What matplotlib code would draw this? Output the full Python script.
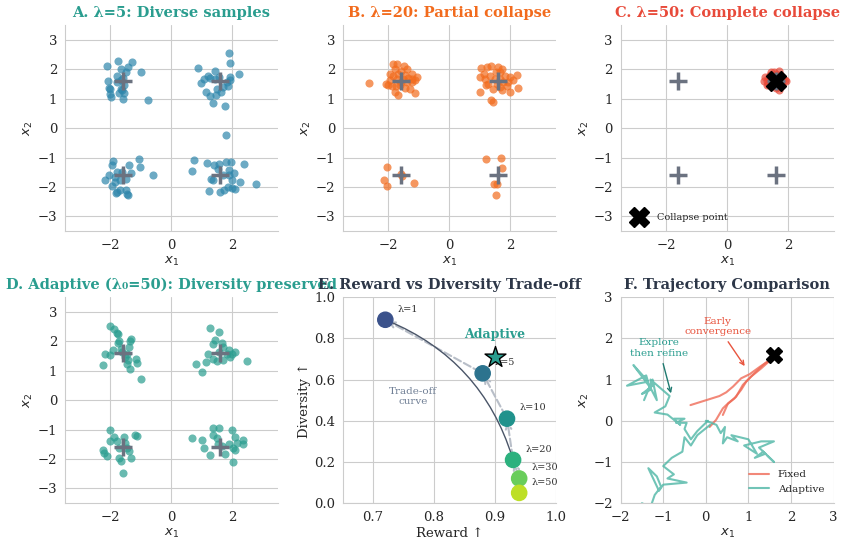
import matplotlib
matplotlib.use('Agg')
import matplotlib.pyplot as plt
import seaborn as sns
import numpy as np

sns.set_style('whitegrid')
plt.rcParams['font.family'] = ['DejaVu Serif', 'DejaVu Sans']

# mode centres
centers_x = [-1.6, 1.6, -1.6, 1.6]
centers_y = [1.6, 1.6, -1.6, -1.6]

# panel A samples (lambda=5)
a_x = [-2.10, -1.75, -1.28, -1.42, -1.65, -1.01, -1.49, -1.78, -2.07, -1.78, -1.54, -2.05, -2.03, -2.02, -1.97,
       -1.71, -1.55, -1.61, -1.60, -0.77, -1.66, -1.58, -1.67,
       1.89, 1.93, 0.87, 1.43, 1.20, 1.06, 0.98, 2.22, 1.93, 1.93, 1.82, 1.86, 1.49, 1.13, 1.27, 1.47, 1.36, 1.75,
       1.69, 1.44, 1.28, 1.58, 1.62,
       -1.91, -1.06, -1.94, -1.38, -1.02, -1.32, -0.61, -2.04, -1.86, -2.17, -1.86, -1.94, -1.70, -1.78, -1.82,
       -1.49, -1.45, -1.42, -1.61, -1.69, -1.50, -1.80,
       1.79, 0.73, 0.68, 1.18, 1.40, 1.57, 1.81, 1.97, 2.40, 1.89, 2.07, 1.30, 1.38, 2.01, 2.26, 2.78, 1.25, 1.60,
       1.73, 1.85, 2.01, 2.09, 1.55, 1.71, 1.88]
a_y = [2.12, 2.28, 2.24, 2.06, 2.01, 1.91, 1.89, 1.77, 1.60, 1.55, 1.48, 1.36, 1.32, 1.15, 1.07,
       1.19, 1.19, 1.28, 0.99, 0.95, 1.64, 1.69, 1.33,
       2.54, 2.21, 2.05, 1.93, 1.76, 1.66, 1.53, 1.82, 1.72, 1.64, 1.56, 1.42, 1.33, 1.24, 1.08, 1.11, 0.86, 0.75,
       1.39, 1.67, 1.71, 1.72, 1.22,
       -1.11, -1.06, -1.27, -1.27, -1.32, -1.53, -1.60, -1.60, -1.66, -1.77, -1.84, -1.98, -2.09, -2.17, -2.19,
       -2.09, -2.23, -2.26, -1.49, -1.77, -1.72, -1.49,
       -0.25, -1.07, -1.47, -1.20, -1.27, -1.21, -1.16, -1.14, -1.22, -1.44, -1.53, -1.72, -1.77, -1.75, -1.83,
       -1.91, -2.15, -2.17, -2.09, -2.00, -2.02, -2.08, -1.38, -1.60, -1.60]

# panel B samples (lambda=20)
b_x = [-2.64, -2.07, -2.00, -1.84, -1.73, -1.78, -1.48, -1.40, -1.23, -1.07, -1.12, -1.23, -1.45, -1.67, -1.79,
       -1.11, -1.95, -1.84, -1.67, -1.53, -1.35, -1.62, -1.75, -1.29, -1.88, -1.59, -1.45, -1.73, -1.40, -1.23,
       -1.57, -1.95,
       1.06, 1.24, 1.39, 1.61, 1.72, 1.67, 1.01, 1.17, 2.00, 2.24, 2.11, 2.27, 2.00, 1.72, 1.01, 1.39, 1.45,
       1.21, 1.45, 1.56, 1.78, 1.89, 1.34, 1.50, 1.83, 1.28, 1.67, 1.94, 1.14, 1.54, 1.67,
       -2.03, -2.13, -2.04, -1.57, -1.55, -1.17,
       1.21, 1.70, 1.72, 1.47, 1.58, 1.53]
b_y = [1.54, 1.51, 1.47, 2.18, 2.16, 2.01, 2.12, 2.01, 1.84, 1.73, 1.62, 1.56, 1.36, 1.11, 1.22,
       1.19, 1.62, 1.76, 1.84, 1.67, 1.69, 1.45, 1.42, 1.33, 1.42, 1.95, 1.80, 1.67, 1.56, 1.67,
       1.56, 1.84,
       2.03, 2.09, 2.12, 2.07, 2.00, 1.89, 1.73, 1.67, 1.74, 1.79, 1.63, 1.37, 1.24, 1.28, 1.22, 0.97, 0.88,
       1.45, 1.33, 1.50, 1.56, 1.42, 1.78, 1.67, 1.76, 1.50, 1.39, 1.56, 1.84, 1.89, 1.67,
       -1.32, -1.77, -1.98, -1.57, -1.64, -1.85,
       -1.04, -1.02, -1.36, -1.91, -1.91, -2.28]

# panel C samples (lambda=50)
c_x = [1.25, 1.30, 1.35, 1.40, 1.45, 1.50, 1.55, 1.60, 1.65, 1.70, 1.75, 1.80, 1.85, 1.90, 1.70,
       1.60, 1.50, 1.45, 1.35, 1.30, 1.55, 1.75, 1.80, 1.65, 1.40, 1.20, 1.95, 1.60, 1.70, 1.50]
c_y = [1.75, 1.60, 1.50, 1.80, 1.90, 1.45, 1.70, 1.85, 1.40, 1.95, 1.55, 1.75, 1.65, 1.62, 1.30,
       1.35, 1.60, 1.55, 1.70, 1.45, 1.90, 1.80, 1.45, 1.70, 1.65, 1.60, 1.60, 1.55, 1.65, 1.75]
collapse_point = (1.6, 1.6)

# panel D samples (adaptive)
d_x = [-2.02, -1.89, -1.76, -1.80, -1.72, -1.76, -1.34, -1.36, -1.39, -1.92, -2.19, -2.00, -2.24, -1.51, -1.43,
       -1.17, -1.45, -1.36, -1.12, -0.99, -1.67, -1.61, -1.45,
       1.28, 1.57, 1.44, 1.38, 1.66, 1.91, 2.10, 1.93, 2.50, 0.82, 1.13, 1.01, 1.38, 1.49, 1.69, 1.19, 1.71,
       1.82, 1.99, 1.57,
       -2.00, -1.89, -2.03, -1.78, -1.56, -1.20, -1.12, -2.24, -2.21, -2.10, -1.72, -1.64, -1.34, -1.60, -1.45,
       -1.39, -1.72, -1.51,
       0.68, 1.00, 1.38, 1.57, 2.01, 1.38, 2.10, 1.06, 1.27, 1.77, 2.02, 2.37, 2.37, 1.49, 1.54, 1.89, 2.03,
       2.11, 1.66, 2.15]
d_y = [2.52, 2.40, 2.26, 2.28, 2.01, 1.93, 2.07, 2.01, 1.80, 1.72, 1.56, 1.55, 1.18, 1.47, 1.38,
       1.41, 1.22, 1.07, 1.25, 0.73, 1.75, 1.64, 1.58,
       2.45, 2.33, 2.05, 1.90, 1.94, 1.72, 1.64, 1.45, 1.32, 1.24, 1.29, 0.94, 1.39, 1.33, 1.37, 1.58, 1.81,
       1.58, 1.58, 1.64,
       -1.02, -1.24, -1.39, -1.39, -1.24, -1.19, -1.22, -1.69, -1.81, -1.89, -1.95, -2.07, -1.98, -2.48, -1.63,
       -1.72, -1.63, -1.46,
       -1.29, -1.34, -0.96, -0.96, -1.03, -1.19, -1.24, -1.63, -1.86, -1.83, -2.10, -1.35, -1.48, -1.30, -1.49,
       -1.50, -1.63, -1.70, -1.57, -1.44]

# panel E trade-off
lambdas = [1, 5, 10, 20, 30, 50]
reward = [0.72, 0.88, 0.92, 0.93, 0.94, 0.94]
diversity = [0.89, 0.63, 0.41, 0.21, 0.12, 0.05]
adaptive_reward = 0.90
adaptive_diversity = 0.71

# panel F trajectories
fixed_trajs = [
    ([-0.36, 0.32, 0.48, 0.64, 0.83, 1.03, 1.27, 1.46, 1.62],
     [0.38, 0.60, 0.69, 0.83, 1.03, 1.13, 1.31, 1.44, 1.56]),
    ([0.09, 0.24, 0.40, 0.48, 0.67, 0.83, 0.95, 1.10, 1.34, 1.50, 1.62],
     [-0.15, 0.02, 0.30, 0.38, 0.54, 0.75, 0.95, 1.11, 1.35, 1.48, 1.58]),
    ([0.40, 0.52, 0.71, 0.87, 1.06, 1.30, 1.57],
     [0.14, 0.42, 0.58, 0.87, 1.07, 1.27, 1.52]),
]
adaptive_trajs = [
    ([0.05, -0.20, -0.35, -0.50, -0.45, -0.70, -0.50, -0.75, -0.60, -0.90, -1.20, -0.95, -0.85, -1.30, -1.25,
      -1.50, -1.30, -1.40, -1.85, -1.35, -1.70, -1.30, -1.15, -1.25, -1.45],
     [0.00, -0.25, -0.45, -0.20, -0.05, -0.05, 0.05, 0.05, -0.10, 0.15, 0.20, 0.35, 0.60, 1.00, 0.85,
      0.65, 0.75, 1.10, 0.85, 0.95, 1.35, 0.80, 0.50, 1.00, 0.50]),
    ([0.10, -0.20, -0.35, -0.50, -0.55, -0.80, -1.00, -0.75, -0.90, -0.45, -1.00, -1.10, -1.35, -1.15, -1.05,
      -1.20, -1.30, -1.50],
     [-0.10, -0.35, -0.60, -0.40, -0.75, -0.90, -1.10, -1.30, -1.40, -1.50, -1.55, -1.70, -1.15, -1.35, -1.60,
      -1.80, -2.10, -2.00]),
    ([0.00, 0.25, 0.35, 0.45, 0.40, 0.50, 0.75, 0.60, 1.00, 1.20, 0.90, 1.30, 1.60, 1.25, 1.40, 1.15, 1.35,
      1.60, 1.45],
     [0.00, -0.10, -0.30, -0.15, -0.55, -0.40, -0.50, -0.35, -0.45, -0.80, -0.60, -0.50, -0.50, -0.65, -0.80,
      -0.90, -0.75, -1.00, -0.85]),
]

teal = '#2a9d8f'
blue = '#2e86ab'
orange = '#f26b1d'
red = '#e84a3a'
dark = '#2d3748'
gray = '#6b7280'

fig, axes = plt.subplots(2, 3, figsize=(8.42, 5.44), dpi=100)
plt.subplots_adjust(left=0.077, right=0.99, top=0.954, bottom=0.075, wspace=0.305, hspace=0.32)


def scatter_panel(ax, xs, ys, color, title, title_color):
    ax.scatter(xs, ys, s=34, color=color, alpha=0.7, linewidths=0)
    ax.plot(centers_x, centers_y, '+', color=gray, markersize=13, mew=2.5, linestyle='none')
    ax.set_xlim(-3.5, 3.5)
    ax.set_ylim(-3.5, 3.5)
    ax.set_xticks([-2, 0, 2])
    ax.set_yticks([-3, -2, -1, 0, 1, 2, 3])
    ax.set_xlabel('$x_1$', fontsize=9.5, labelpad=2)
    ax.set_ylabel('$x_2$', fontsize=9.5, labelpad=2)
    ax.set_title(title, color=title_color, fontweight='bold', fontsize=10.5)


scatter_panel(axes[0, 0], a_x, a_y, blue, 'A. λ=5: Diverse samples', teal)
scatter_panel(axes[0, 1], b_x, b_y, orange, 'B. λ=20: Partial collapse', orange)
scatter_panel(axes[0, 2], c_x, c_y, red, 'C. λ=50: Complete collapse', red)
axes[0, 2].plot([collapse_point[0]], [collapse_point[1]], 'X', color='black', markersize=14,
                linestyle='none', label='Collapse point')
axes[0, 2].legend(loc='lower left', fontsize=7, frameon=False)
scatter_panel(axes[1, 0], d_x, d_y, teal, 'D. Adaptive (λ₀=50): Diversity preserved', teal)

# E. trade-off
ax = axes[1, 1]
cols = plt.cm.viridis(np.linspace(0.25, 0.9, len(lambdas)))
for i in range(len(lambdas) - 1):
    ax.annotate('', xy=(reward[i], diversity[i]), xytext=(reward[i + 1], diversity[i + 1]),
                arrowprops=dict(arrowstyle='->', color='#b8bec8', lw=1.5, linestyle='--'))
ax.annotate('', xy=(reward[3], diversity[3]), xytext=(reward[0], diversity[0]),
            arrowprops=dict(arrowstyle='-', color='#4a5568', lw=1.0,
                            connectionstyle='arc3,rad=-0.24'))
ax.scatter(reward, diversity, s=120, c=cols, zorder=3)
for lam, r, d in zip(lambdas, reward, diversity):
    ax.text(r + 0.02, d + 0.04, f'λ={lam}', fontsize=7, color='#333333')
ax.scatter([adaptive_reward], [adaptive_diversity], marker='*', s=250, color=teal,
           edgecolors='black', linewidths=1, zorder=4)
ax.text(adaptive_reward, adaptive_diversity + 0.09, 'Adaptive', color=teal, fontweight='bold',
        fontsize=9, ha='center')
ax.text(0.765, 0.48, 'Trade-off\ncurve', color='#718096', fontsize=7.5, ha='center')
ax.set_xlim(0.65, 1.0)
ax.set_ylim(0, 1.0)
ax.set_xticks([0.7, 0.8, 0.9, 1.0])
ax.set_xlabel('Reward ↑', fontsize=9.5, labelpad=2)
ax.set_ylabel('Diversity ↑', fontsize=9.5, labelpad=2)
ax.set_title('E. Reward vs Diversity Trade-off', color=dark, fontweight='bold', fontsize=10.5)

# F. trajectories
ax = axes[1, 2]
for k, (tx, ty) in enumerate(fixed_trajs):
    ax.plot(tx, ty, color='#ef6b57', alpha=0.8, lw=1.5, label='Fixed' if k == 0 else None)
for k, (tx, ty) in enumerate(adaptive_trajs):
    ax.plot(tx, ty, color='#4db6a5', alpha=0.8, lw=1.5, label='Adaptive' if k == 0 else None)
ax.plot([collapse_point[0]], [collapse_point[1]], 'X', color='black', markersize=12, linestyle='none')
ax.annotate('Early\nconvergence', xy=(0.95, 1.27), xytext=(0.28, 2.1), color='#e8553f', fontsize=7.5,
            ha='center', arrowprops=dict(arrowstyle='->', color='#e8553f', lw=1))
ax.annotate('Explore\nthen refine', xy=(-0.8, 0.6), xytext=(-1.1, 1.58), color=teal, fontsize=7.5,
            ha='center', arrowprops=dict(arrowstyle='->', color='#1f7a70', lw=1))
ax.set_xlim(-2, 3)
ax.set_ylim(-2, 3)
ax.set_xlabel('$x_1$', fontsize=9.5, labelpad=2)
ax.set_ylabel('$x_2$', fontsize=9.5, labelpad=2)
ax.legend(loc='lower right', fontsize=7.5, frameon=False)
ax.set_title('F. Trajectory Comparison', color=dark, fontweight='bold', fontsize=10.5)

for ax in axes.flat:
    ax.tick_params(labelsize=9.5, pad=2)
    for s in ['top', 'right']:
        ax.spines[s].set_visible(False)
    for s in ['left', 'bottom']:
        ax.spines[s].set_color('#cccccc')

plt.savefig('out.png', dpi=100)
